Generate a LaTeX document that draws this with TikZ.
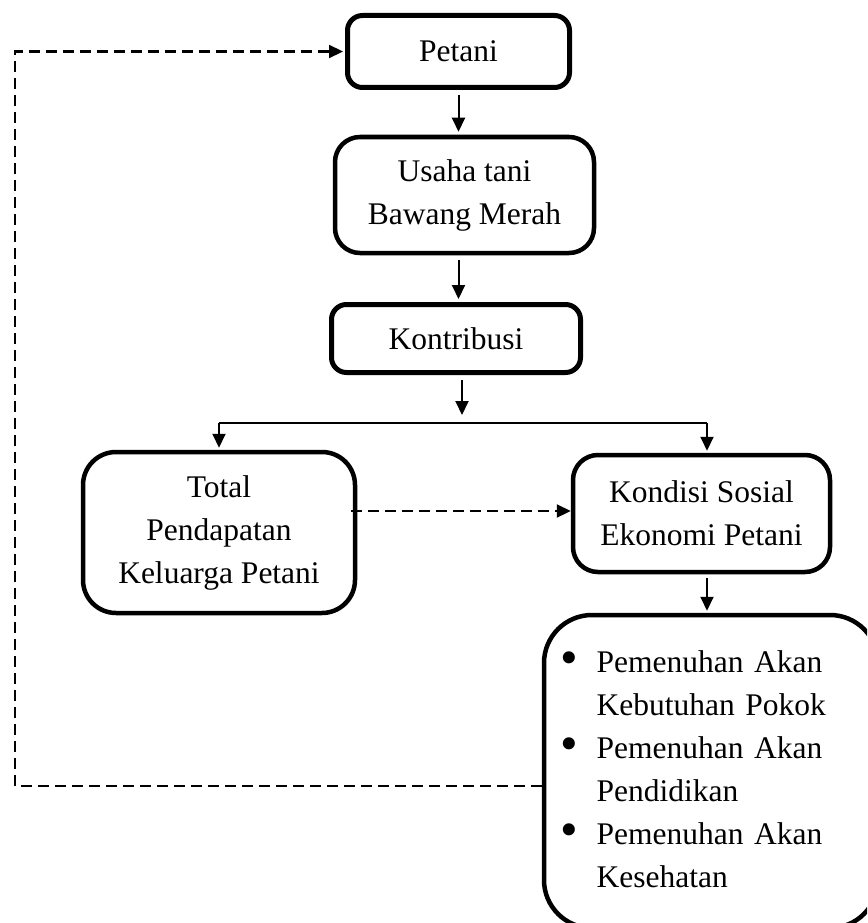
\documentclass[tikz,border=0pt]{standalone}
\usepackage{fontspec}
\setmainfont{Liberation Serif}
\usetikzlibrary{arrows.meta,calc}
\newcommand{\bigbul}{\raisebox{-1.5pt}{\scalebox{1.6}{\textbullet}}}
\begin{document}
\begin{tikzpicture}[x=1pt,y=-1pt,
  box/.style={draw,align=center,inner sep=0pt,font=\fontsize{31.5}{43}\selectfont},
  arr/.style={-{Triangle[length=14pt,width=13pt]},line width=2pt},
  dsh/.style={dash pattern=on 11pt off 6pt,line width=2.2pt},
  thinline/.style={line width=1.5pt}]
\useasboundingbox (0,0) rectangle (867,923);
\fill[white] (0,0) rectangle (867,923);
\clip (0,0) rectangle (867,923);

\node[box,line width=5pt,rounded corners=15pt,minimum width=222pt,minimum height=72pt] (petani) at (458.5,51.5) {Petani};
\node[box,line width=4.5pt,rounded corners=25pt,minimum width=259pt,minimum height=116pt] (usaha) at (464.5,195) {Usaha tani\\Bawang Merah};
\node[box,line width=5pt,rounded corners=15pt,minimum width=249pt,minimum height=68pt] (kontr) at (456,338.5) {Kontribusi};
\node[box,line width=4.5pt,rounded corners=33pt,minimum width=272pt,minimum height=161pt] (total) at (219,532.5) {Total\\Pendapatan\\Keluarga Petani};
\node[box,line width=4.5pt,rounded corners=25pt,minimum width=257pt,minimum height=117pt] (kond) at (701.5,513.5) {Kondisi Sosial\\Ekonomi Petani};
\node[box,line width=4.5pt,rounded corners=48pt,minimum width=334pt,minimum height=313pt,text width=302pt,inner xsep=16pt,align=left] (bul) at (711,771.5)
  {\begin{tabular}{@{}l@{\hspace{19pt}}l@{}}
   \bigbul & Pemenuhan Akan\\
           & Kebutuhan Pokok\\
   \bigbul & Pemenuhan Akan\\
           & Pendidikan\\
   \bigbul & Pemenuhan Akan\\
           & Kesehatan
   \end{tabular}};

\coordinate (jm) at (462,423);
\coordinate (jl) at (219,423);
\coordinate (jr) at (707,423);
\coordinate (dy) at (0,511);
\coordinate (fb1) at (15,786);
\coordinate (fb2) at (15,51.5);

\draw[arr,shorten <=5pt,shorten >=3pt] (petani.south) -- (petani.south |- usaha.north);
\draw[arr,shorten <=5pt,shorten >=3pt] (usaha.south -| petani.south) -- (petani.south |- kontr.north);
\draw[arr,shorten <=5pt,shorten >=8pt] (kontr.south -| jm) -- (jm);
\draw[thinline] (jl) -- (jr);
\draw[arr,shorten >=2pt] (jl) -- (total.north);
\draw[arr,shorten >=2pt] (jr) -- (jr |- kond.north);
\draw[arr,shorten <=4pt,shorten >=2pt] (kond.south -| jr) -- (jr |- bul.north);
\draw[dsh,arr,line width=2.2pt,shorten <=-6pt] (total.east |- dy) -- (kond.west |- dy);
\draw[dsh,arr,line width=2.2pt,shorten >=2pt] (bul.west |- fb1) -- (fb1) -- (fb2) -- (petani.west);
\end{tikzpicture}
\end{document}
